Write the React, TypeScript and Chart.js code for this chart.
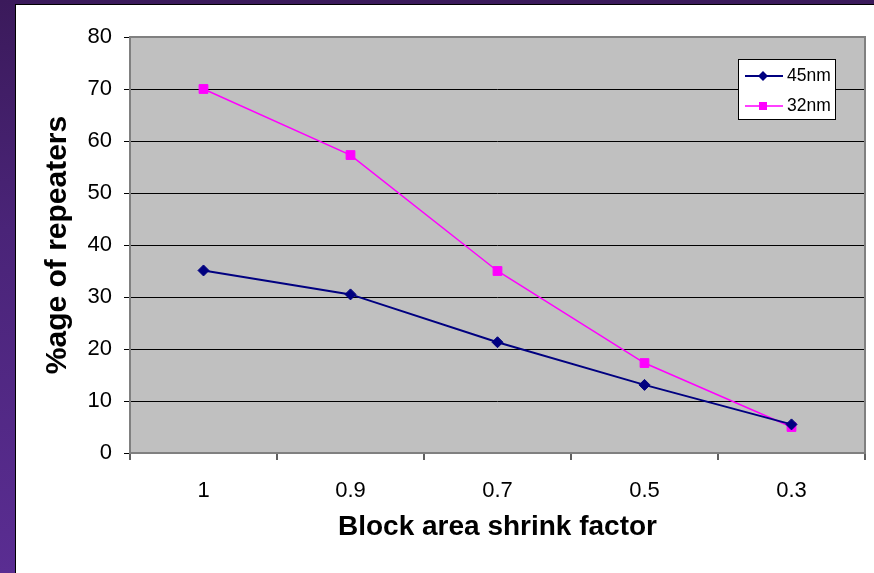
import React, { useEffect, useRef } from 'react';
import { Chart, registerables } from 'chart.js';

Chart.register(...registerables);

const categories = ['1', '0.9', '0.7', '0.5', '0.3'];
const series45nm = [35.1, 30.5, 21.3, 13.1, 5.5];
const series32nm = [70, 57.3, 35, 17.3, 5.0];
const seriesLabels = ['45nm', '32nm'];
const yMin = 0;
const yMax = 80;
const yStep = 10;

const FONT = "'Liberation Sans', Arial, Helvetica, sans-serif";
const NAVY = '#000080';
const MAGENTA = '#FF00FF';

const plotBg = {
  id: 'plotBg',
  beforeDraw(chart: any) {
    const { ctx, chartArea: a } = chart;
    ctx.save();
    ctx.fillStyle = '#C0C0C0';
    ctx.fillRect(a.left, a.top, a.right - a.left, a.bottom - a.top);
    ctx.restore();
  },
  beforeDatasetsDraw(chart: any) {
    const { ctx, chartArea: a } = chart;
    ctx.save();
    ctx.strokeStyle = '#808080';
    ctx.lineWidth = 2;
    ctx.strokeRect(a.left, a.top, a.right - a.left, a.bottom - a.top);
    ctx.restore();
  },
};

const boxLegend = {
  id: 'boxLegend',
  afterDraw(chart: any) {
    const { ctx } = chart;
    const x0 = 722.5, y0 = 54.5, w = 97, h = 60;
    ctx.save();
    ctx.fillStyle = '#FFFFFF';
    ctx.fillRect(x0, y0, w, h);
    ctx.strokeStyle = '#000000';
    ctx.lineWidth = 1;
    ctx.strokeRect(x0, y0, w, h);
    const rows = [71, 101];
    const colors = [NAVY, MAGENTA];
    seriesLabels.forEach((label, i) => {
      const y = rows[i];
      ctx.strokeStyle = colors[i];
      ctx.lineWidth = i === 0 ? 2 : 1.5;
      ctx.beginPath();
      ctx.moveTo(729, y);
      ctx.lineTo(767, y);
      ctx.stroke();
      ctx.fillStyle = colors[i];
      const cx = 747;
      if (i === 0) {
        const r = 5;
        ctx.beginPath();
        ctx.moveTo(cx - r, y);
        ctx.lineTo(cx, y - r);
        ctx.lineTo(cx + r, y);
        ctx.lineTo(cx, y + r);
        ctx.closePath();
        ctx.fill();
      } else {
        ctx.fillRect(cx - 4, y - 4, 8, 8);
      }
      ctx.fillStyle = '#000000';
      ctx.font = `17.5px ${FONT}`;
      ctx.textBaseline = 'middle';
      ctx.textAlign = 'left';
      ctx.fillText(label, 771, y);
    });
    ctx.restore();
  },
};

function ChartCanvas() {
  const ref = useRef<HTMLCanvasElement>(null);
  useEffect(() => {
    if (!ref.current) return;
    const chart = new Chart(ref.current, {
      type: 'line',
      data: {
        labels: categories,
        datasets: [
          {
            label: seriesLabels[0],
            data: series45nm,
            borderColor: NAVY,
            backgroundColor: NAVY,
            borderWidth: 2,
            pointStyle: 'rectRot',
            pointRadius: 5.5,
            pointBorderWidth: 1,
            pointBorderColor: NAVY,
            pointBackgroundColor: NAVY,
            tension: 0,
            fill: false,
          },
          {
            label: seriesLabels[1],
            data: series32nm,
            borderColor: MAGENTA,
            backgroundColor: MAGENTA,
            borderWidth: 1.5,
            pointStyle: 'rect',
            pointRadius: 6.2,
            pointBorderWidth: 1,
            pointBorderColor: MAGENTA,
            pointBackgroundColor: MAGENTA,
            tension: 0,
            fill: false,
          },
        ],
      },
      options: {
        responsive: false,
        animation: false,
        events: [],
        layout: { padding: { top: 32, right: 9, bottom: 0, left: 0 } },
        plugins: {
          legend: { display: false },
          tooltip: { enabled: false },
          title: { display: false },
        },
        scales: {
          x: {
            type: 'category',
            offset: true,
            grid: {
              offset: true,
              drawOnChartArea: false,
              drawTicks: true,
              tickLength: 7,
              color: '#606060',
              lineWidth: 2,
            },
            border: { display: false },
            ticks: {
              color: '#000000',
              font: { size: 22, family: FONT },
              padding: 18,
              maxRotation: 0,
              autoSkip: false,
            },
            title: {
              display: true,
              text: 'Block area shrink factor',
              color: '#000000',
              font: { size: 28, weight: 'bold', family: FONT },
              padding: { top: 0, bottom: 29 },
            },
            afterFit: (s: any) => {
              s.height = 120;
            },
          },
          y: {
            min: yMin,
            max: yMax,
            ticks: {
              stepSize: yStep,
              color: '#000000',
              font: { size: 22, family: FONT },
              padding: 12,
            },
            grid: { color: '#000000', lineWidth: 1, tickLength: 6, drawTicks: true },
            border: { display: false },
            title: {
              display: true,
              text: '%age of repeaters',
              color: '#000000',
              font: { size: 30, weight: 'bold', family: FONT },
              padding: { top: 24, bottom: 0 },
            },
            afterFit: (s: any) => {
              s.width = 114;
            },
          },
        },
      },
      plugins: [plotBg, boxLegend],
    } as any);
    return () => chart.destroy();
  }, []);
  return (
    <canvas
      ref={ref}
      width={858}
      height={568}
      style={{ display: 'block', width: 858, height: 568 }}
    />
  );
}

export default function App() {
  return (
    <div
      style={{
        position: 'fixed',
        left: 0,
        top: 0,
        width: 874,
        height: 573,
        overflow: 'hidden',
        background: 'linear-gradient(to bottom, #3B1A5B 0%, #4A2478 40%, #5A2D92 100%)',
      }}
    >
      <div
        style={{
          position: 'absolute',
          left: 15,
          top: 4,
          width: 859,
          height: 569,
          boxSizing: 'border-box',
          background: '#FFFFFF',
          borderLeft: '1px solid #000000',
          borderTop: '1px solid #000000',
        }}
      >
        <ChartCanvas />
      </div>
    </div>
  );
}
